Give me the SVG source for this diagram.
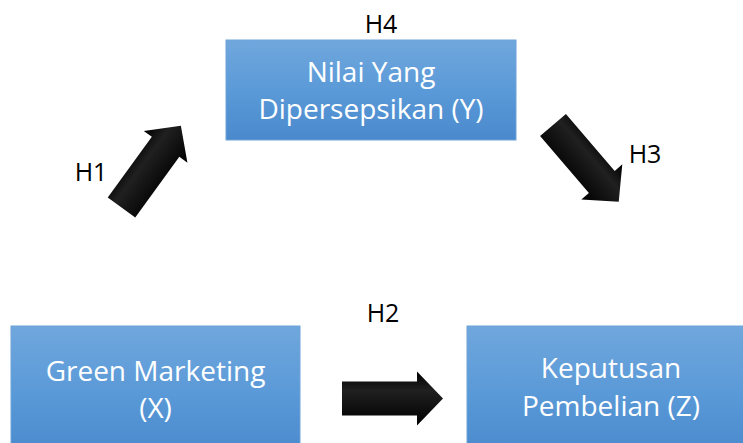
<svg xmlns="http://www.w3.org/2000/svg" width="743" height="443" viewBox="0 0 743 443">
<defs>
<linearGradient id="boxg" x1="0" y1="0" x2="0" y2="1">
<stop offset="0" stop-color="#70a7dd"/>
<stop offset="0.5" stop-color="#5b9ad8"/>
<stop offset="1" stop-color="#4a89cc"/>
</linearGradient>
<linearGradient id="arrg" x1="0" y1="0" x2="0" y2="1">
<stop offset="0" stop-color="#000"/>
<stop offset="0.35" stop-color="#202020"/>
<stop offset="1" stop-color="#000"/>
</linearGradient>
<path id="arrow" d="M0,-17 L75,-17 L75,-27 L101,0 L75,27 L75,17 L0,17 Z" fill="url(#arrg)"/>
</defs>
<style>
.box{fill:url(#boxg);stroke:#6fa3d8;stroke-width:1}
.bt{font-family:"Open Sans","Liberation Sans",sans-serif;font-size:28px;fill:#ffffff;text-anchor:middle}
.lb{font-family:"Open Sans","Liberation Sans",sans-serif;font-size:25px;fill:#000000;text-anchor:middle}
</style>
<rect width="743" height="443" fill="#ffffff"/>
<g id="node-y">
<rect class="box" x="226" y="40" width="290" height="100"/>
<text class="bt" x="371" y="82">Nilai Yang</text>
<text class="bt" x="371" y="119">Dipersepsikan (Y)</text>
</g>
<g id="node-x">
<rect class="box" x="11" y="326" width="289" height="130"/>
<text class="bt" x="155.5" y="381">Green Marketing</text>
<text class="bt" x="155.5" y="418">(X)</text>
</g>
<g id="node-z">
<rect class="box" x="467" y="326" width="290" height="130"/>
<text class="bt" x="611" y="378">Keputusan</text>
<text class="bt" x="611" y="416">Pembelian (Z)</text>
</g>
<g id="connectors">
<use href="#arrow" transform="translate(121.5,207.5) rotate(-54)"/>
<use href="#arrow" transform="translate(553,125) rotate(49.4)"/>
<use href="#arrow" transform="translate(342,398.5)"/>
</g>
<g id="labels">
<text class="lb" x="381" y="33">H4</text>
<text class="lb" x="91" y="181">H1</text>
<text class="lb" x="645" y="163">H3</text>
<text class="lb" x="383" y="322">H2</text>
</g>
</svg>
